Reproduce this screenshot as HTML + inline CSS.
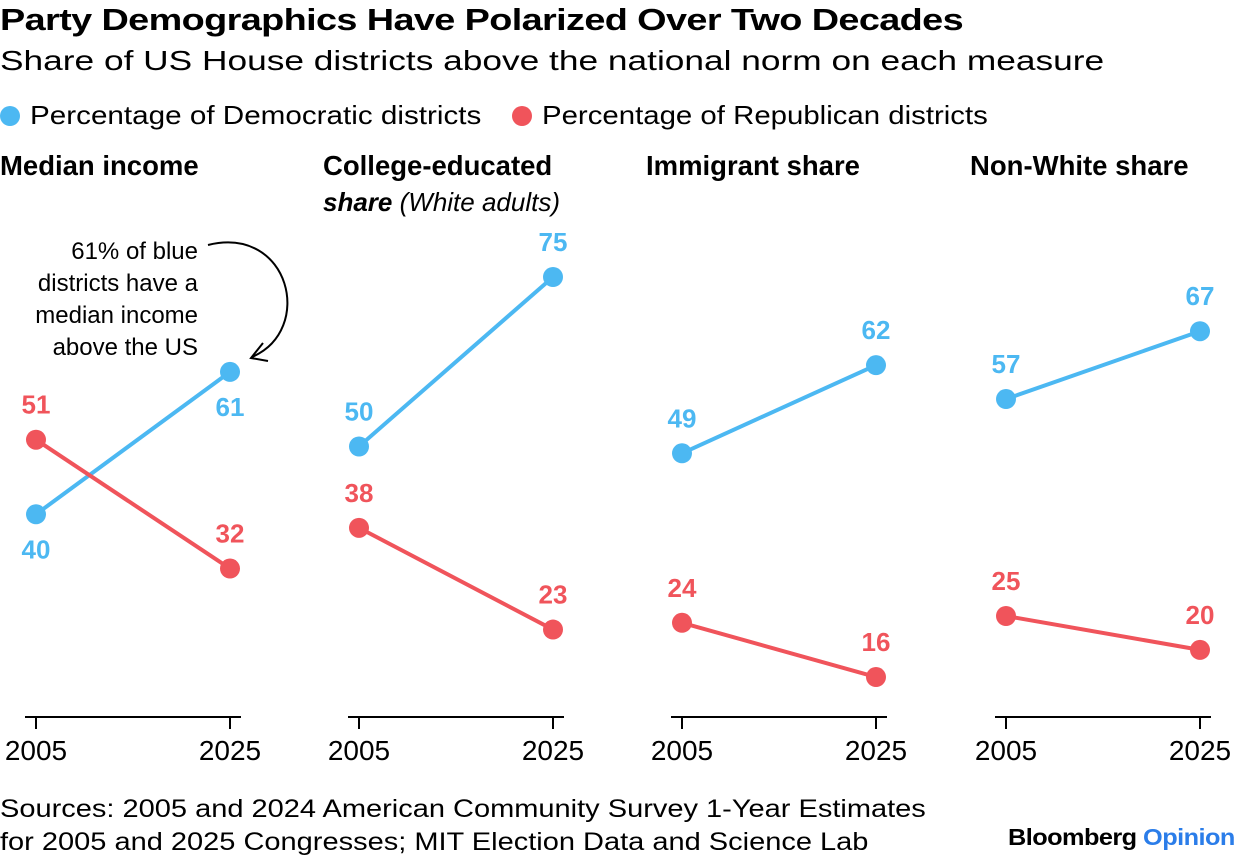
<!DOCTYPE html>
<html><head><meta charset="utf-8"><style>
body{margin:0;width:1236px;height:860px;background:#fff;font-family:"Liberation Sans",sans-serif;color:#000;overflow:hidden;position:relative}
.t{position:absolute;white-space:nowrap;transform-origin:0 0}
</style></head><body>
<div class="t" style="left:0;top:2px;font-size:31px;font-weight:bold;letter-spacing:-0.5px;transform:scaleX(1.22)">Party Demographics Have Polarized Over Two Decades</div>
<div class="t" style="left:0;top:45px;font-size:28px;transform:scaleX(1.26)">Share of US House districts above the national norm on each measure</div>
<div class="t" style="left:0;top:100px;font-size:26px"><span style="display:inline-block;width:20px;height:20px;border-radius:50%;background:#4cb8f2;vertical-align:-2px;margin-right:10px"></span><span style="display:inline-block;transform:scaleX(1.14);transform-origin:0 0">Percentage of Democratic districts</span></div>
<div class="t" style="left:512px;top:100px;font-size:26px"><span style="display:inline-block;width:20px;height:20px;border-radius:50%;background:#f0545b;vertical-align:-2px;margin-right:10px"></span><span style="display:inline-block;transform:scaleX(1.13);transform-origin:0 0">Percentage of Republican districts</span></div>
<div class="t" style="left:0;top:793px;font-size:25px;line-height:33px;transform:scaleX(1.16)">Sources: 2005 and 2024 American Community Survey 1-Year Estimates<br>for 2005 and 2025 Congresses; MIT Election Data and Science Lab</div>
<div class="t" style="left:1008px;top:824px;font-size:23px;font-weight:bold;letter-spacing:-0.5px;transform:scaleX(1.1)">Bloomberg <span style="color:#2b7de9">Opinion</span></div>
<svg id="chart" width="1236" height="860" style="position:absolute;left:0;top:0" font-family="Liberation Sans, sans-serif"></svg>
<script>
const panels=["Median income","College-educated share (White adults)","Immigrant share","Non-White share"];
const years=["2005","2025"];
const dem=[[40,61],[50,75],[49,62],[57,67]];
const rep=[[51,32],[38,23],[24,16],[25,20]];
const svg=document.getElementById('chart');
const NS="http://www.w3.org/2000/svg";
const panelX=[36,359,682,1006], span=194;
const xS=(p,i)=>panelX[p]+i*span;
const yS=v=>277+(75-v)*6.78;
function mk(tag,attrs,text){const e=document.createElementNS(NS,tag);for(const k in attrs)e.setAttribute(k,attrs[k]);if(text!==undefined)e.textContent=text;svg.appendChild(e);return e;}
panels.forEach((name,p)=>{
 const x0=panelX[p]-36;
 let t;
 if(p===1){
  t=mk('text',{x:x0,y:175,'font-size':27.5,'font-weight':'bold'},"College-educated");
  
  const t2=mk('text',{x:x0,y:211,'font-size':26,'font-style':'italic'});
  
  const a=document.createElementNS(NS,'tspan');a.setAttribute('font-weight','bold');a.textContent='share';t2.appendChild(a);
  const b=document.createElementNS(NS,'tspan');b.textContent=' (White adults)';t2.appendChild(b);
 } else {
  t=mk('text',{x:x0,y:175,'font-size':27.5,'font-weight':'bold'},name);
  
 }
 const ax=mk('line',{x1:panelX[p]-11,x2:panelX[p]+span+11,y1:717,y2:717,stroke:'#000','stroke-width':2});
 
 years.forEach((yr,i)=>{
  const tk=mk('line',{x1:xS(p,i),x2:xS(p,i),y1:717,y2:729,stroke:'#000','stroke-width':2});
  
  const tl=mk('text',{x:xS(p,i),y:760,'font-size':28,'text-anchor':'middle'},yr);
  
 });
 [[dem,'#4cb8f2','dem'],[rep,'#f0545b','rep']].forEach(([arr,col,key])=>{
  const v=arr[p];
  const ln=mk('line',{x1:xS(p,0),y1:yS(v[0]),x2:xS(p,1),y2:yS(v[1]),stroke:col,'stroke-width':4});
  
  v.forEach((val,i)=>{
   const c=mk('circle',{cx:xS(p,i),cy:yS(val),r:10,fill:col});
   
   const below=(p===0&&key==='dem');
   const lb=mk('text',{x:xS(p,i),y:yS(val)+(below?44:-26),'font-size':26,'font-weight':'bold','text-anchor':'middle',fill:col},String(val));
   
  });
 });
});
const ann=["61% of blue","districts have a","median income","above the US"];
ann.forEach((s,i)=>{const a=mk('text',{x:198,y:259+i*32,'font-size':24,'text-anchor':'end'},s);
});
const arr=mk('path',{d:'M208,245 C290,225 315,330 252,357',fill:'none',stroke:'#000','stroke-width':2});

const hd=mk('path',{d:'M263,343 L251,358 L268,361',fill:'none',stroke:'#000','stroke-width':2});

</script>
</body></html>
